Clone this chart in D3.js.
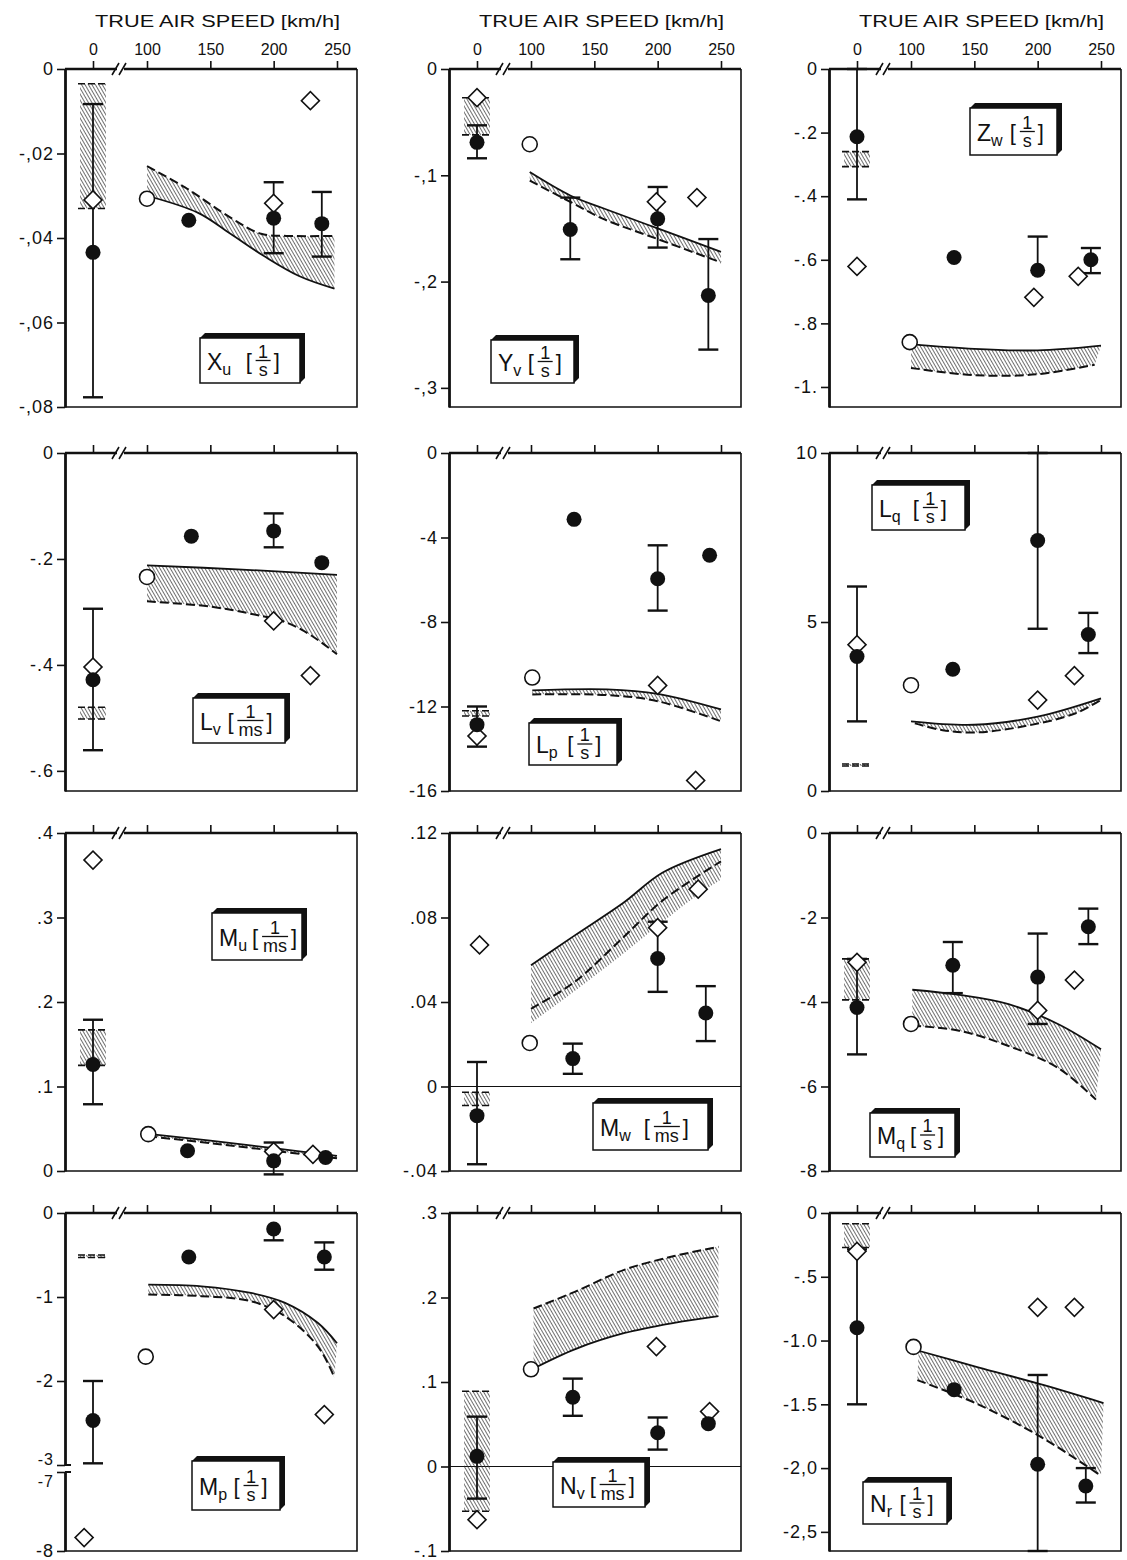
<!DOCTYPE html>
<html>
<head>
<meta charset="utf-8">
<script src="https://cdn.jsdelivr.net/npm/d3@7"></script>
<style>
  body { margin: 0; background: #fff; }
  text { font-family: "Liberation Sans", "DejaVu Sans", Arial, sans-serif; fill: #111; }
</style>
</head>
<body>
<svg id="chart" width="1127" height="1560"></svg>
<script>
// layout of the 4 x 3 grid of panels
const col_left = [65, 449, 829]
const row_top = [69, 453, 833, 1213]
const panel_w = 292
const panel_h = 338
const break_x = 55

// panel order: row by row
const coef_letter = ["X","Y","Z","L","L","L","M","M","M","M","N","N"]
const coef_sub = ["u","v","w","v","p","q","u","w","q","p","v","r"]
const coef_unit = ["s","s","s","ms","s","s","ms","ms","s","s","ms","s"]

const y_domains = [[-0.08,0],[-0.318,0],[-1.063,0],[-0.638,0],[-16,0],[0,10],[0,0.4],[-0.04,0.12],[-8,0],[-3,0],[-0.1,0.3],[-2.65,0]]
const mp_lower_domain = [-8, -7]   // M_p has a broken axis
const mp_lower_ticks = [-7, -8]

const y_tick_values = [
  [0,-0.02,-0.04,-0.06,-0.08],
  [0,-0.1,-0.2,-0.3],
  [0,-0.2,-0.4,-0.6,-0.8,-1],
  [0,-0.2,-0.4,-0.6],
  [0,-4,-8,-12,-16],
  [10,5,0],
  [0.4,0.3,0.2,0.1,0],
  [0.12,0.08,0.04,0,-0.04],
  [0,-2,-4,-6,-8],
  [0,-1,-2,-3],
  [0.3,0.2,0.1,0,-0.1],
  [0,-0.5,-1,-1.5,-2,-2.5]
]
const y_tick_labels = [
  ["0","-,02","-,04","-,06","-,08"],
  ["0","-,1","-,2","-,3"],
  ["0","-.2","-.4","-.6","-.8","-1."],
  ["0","-.2","-.4","-.6"],
  ["0","-4","-8","-12","-16"],
  ["10","5","0"],
  [".4",".3",".2",".1","0"],
  [".12",".08",".04","0","-.04"],
  ["0","-2","-4","-6","-8"],
  ["0","-1","-2","-3"],
  [".3",".2",".1","0","-.1"],
  ["0","-.5","-1.0","-1.5","-2,0","-2,5"]
]
const mp_lower_labels = ["-7", "-8"]
const hover_tick = [0]
const speed_ticks = [100, 150, 200, 250]
const zero_line_panels = [7, 10]

// flight test estimates: [panel, speed, value, error low, error high]
const flight_test = [
  [0,0,-0.0434,-0.0777,-0.0083],[0,133,-0.0358,null,null],[0,200,-0.0353,-0.0436,-0.0268],[0,238,-0.0366,-0.0444,-0.0291],
  [1,0,-0.069,-0.084,-0.053],[1,131,-0.151,-0.179,-0.121],[1,200,-0.141,-0.168,-0.111],[1,240,-0.213,-0.264,-0.160],
  [2,0,-0.213,-0.41,0],[2,134,-0.593,null,null],[2,200,-0.633,null,-0.527],[2,242,-0.60,-0.642,-0.563],
  [3,0,-0.428,-0.561,-0.294],[3,135,-0.157,null,null],[3,200,-0.147,-0.178,-0.114],[3,238,-0.207,null,null],
  [4,0,-12.86,-13.9,-12.0],[4,134,-3.14,null,null],[4,200,-5.95,-7.46,-4.37],[4,241,-4.84,null,null],
  [5,0,3.98,2.06,6.05],[5,133,3.6,null,null],[5,200,7.41,4.8,10],[5,240,4.63,4.08,5.27],
  [6,0,0.126,0.079,0.179],[6,132,0.024,null,null],[6,200,0.012,-0.004,0.0337],[6,241,0.016,null,null],
  [7,0,-0.0138,-0.0368,0.0116],[7,133,0.0132,0.006,0.0203],[7,200,0.0606,0.0448,0.078],[7,238,0.0348,0.0215,0.0475],
  [8,0,-4.13,-5.24,-2.98],[8,133,-3.13,-3.79,-2.58],[8,200,-3.41,-4.52,-2.38],[8,240,-2.22,-2.63,-1.79],
  [9,0,-2.47,-2.98,-2.0],[9,133,-0.524,null,null],[9,200,-0.19,-0.325,null],[9,240,-0.524,-0.675,-0.35],
  [10,0,0.012,-0.038,0.059],[10,133,0.082,0.060,0.104],[10,200,0.04,0.02,0.058],[10,240,0.0507,null,null],
  [11,0,-0.90,-1.50,-0.285],[11,134,-1.385,null,null],[11,200,-1.97,-2.65,-1.27],[11,238,-2.14,-2.27,-2.0]
]

// open circles: [panel, speed, value]
const open_points = [
  [0,100,-0.0307],[1,99,-0.0708],[2,99,-0.859],[3,100,-0.234],[4,101,-10.63],[5,100,3.13],
  [6,101,0.0436],[7,99,0.0206],[8,100,-4.52],[9,99,-1.71],[10,100,0.115],[11,102,-1.05]
]

// diamonds: [panel, speed, value]
const diamond_points = [
  [0,0,-0.031],[0,229,-0.0075],[0,200,-0.0318],
  [1,0,-0.027],[1,199,-0.125],[1,231,-0.121],
  [2,0,-0.621],[2,197,-0.718],[2,232,-0.652],
  [3,0,-0.404],[3,200,-0.317],[3,229,-0.42],
  [4,0,-13.4],[4,200,-11.0],[4,230,-15.5],
  [5,0,4.33],[5,200,2.69],[5,229,3.41],
  [6,0,0.368],[6,200,0.023],[6,231,0.0198],
  [7,2,0.067],[7,200,0.0752],[7,232,0.0934],
  [8,0,-3.06],[8,200,-4.2],[8,229,-3.48],
  [9,-7,-7.83],[9,200,-1.15],[9,240,-2.4],
  [10,0,-0.063],[10,199,0.142],[10,241,0.065],
  [11,0,-0.30],[11,200,-0.739],[11,229,-0.739]
]

// hatched ranges at hover: [panel, low, high]
const hover_ranges = [
  [0,-0.033,-0.0035],[1,-0.062,-0.027],[2,-0.307,-0.26],[3,-0.502,-0.48],[4,-12.45,-12.2],[5,0.74,0.8],
  [6,0.125,0.167],[7,-0.009,-0.0027],[8,-3.95,-2.98],[9,-0.53,-0.5],[10,-0.053,0.089],[11,-0.27,-0.084]
]

// hatched band edges: [panel, speed, value]
const band_upper = [
  [0,100,-0.023],[0,130,-0.028],[0,165,-0.035],[0,190,-0.039],[0,210,-0.0395],[0,248,-0.0395],
  [1,99,-0.097],[1,131,-0.119],[1,157,-0.131],[1,200,-0.150],[1,250,-0.172],
  [2,100,-0.865],[2,150,-0.88],[2,200,-0.885],[2,250,-0.87],
  [3,100,-0.212],[3,175,-0.22],[3,250,-0.23],
  [4,101,-11.24],[4,160,-11.19],[4,200,-11.4],[4,250,-12.14],
  [5,100,2.06],[5,150,1.96],[5,200,2.2],[5,250,2.74],
  [6,101,0.044],[6,150,0.036],[6,200,0.027],[6,250,0.018],
  [7,100,0.0574],[7,134,0.0713],[7,173,0.087],[7,204,0.1013],[7,250,0.1124],
  [8,101,-3.71],[8,138,-3.83],[8,177,-4.05],[8,216,-4.52],[8,250,-5.12],
  [9,101,-0.853],[9,143,-0.873],[9,182,-0.952],[9,209,-1.07],[9,235,-1.31],[9,250,-1.55],
  [10,102,0.187],[10,135,0.207],[10,174,0.233],[10,213,0.249],[10,248,0.26],
  [11,106,-1.08],[11,153,-1.21],[11,205,-1.35],[11,252,-1.49]
]
const band_lower = [
  [0,100,-0.030],[0,140,-0.034],[0,165,-0.0388],[0,193,-0.0444],[0,220,-0.049],[0,248,-0.052],
  [1,99,-0.105],[1,131,-0.125],[1,157,-0.141],[1,200,-0.160],[1,250,-0.182],
  [2,100,-0.94],[2,150,-0.963],[2,200,-0.96],[2,245,-0.93],
  [3,100,-0.28],[3,150,-0.29],[3,185,-0.305],[3,210,-0.32],[3,230,-0.345],[3,250,-0.38],
  [4,101,-11.43],[4,160,-11.46],[4,200,-11.75],[4,250,-12.7],
  [5,103,2.0],[5,125,1.8],[5,150,1.73],[5,190,1.92],[5,230,2.3],[5,250,2.7],
  [6,101,0.041],[6,150,0.033],[6,200,0.024],[6,250,0.015],
  [7,100,0.03],[7,134,0.045],[7,173,0.063],[7,204,0.078],[7,230,0.09],[7,250,0.098],
  [8,101,-4.56],[8,138,-4.68],[8,177,-5.04],[8,216,-5.56],[8,246,-6.31],
  [9,101,-0.97],[9,143,-0.99],[9,182,-1.05],[9,209,-1.23],[9,235,-1.59],[9,248,-1.96],
  [10,102,0.116],[10,135,0.139],[10,174,0.158],[10,213,0.170],[10,248,0.178],
  [11,105,-1.31],[11,153,-1.50],[11,205,-1.77],[11,250,-2.06]
]
const band_mid = [
  [7,100,0.0368],[7,134,0.0493],[7,173,0.0707],[7,204,0.0881],[7,250,0.1066]
]
const band_upper_style = ["dashed","solid","solid","solid","solid","solid","solid","solid","solid","solid","dashed","solid"]
const band_lower_style = ["solid","dashed","dashed","dashed","dashed","dashed","dashed","none","dashed","dashed","solid","dashed"]

// label box placement inside each panel: [x, y, w, h]
const label_boxes = [[135,264,105,50],[42,266,88,48],[141,34,92,52],[128,240,97,50],[80,265,93,47],[43,27,98,50],
  [147,75,95,52],[144,265,120,52],[41,275,90,49],[127,243,93,54],[104,244,97,50],[34,264,89,47]]

const ink = "#111"
const svg = d3.select("#chart")

// hatching
svg.append("defs").append("pattern")
  .attr("id", "hatch")
  .attr("patternUnits", "userSpaceOnUse")
  .attr("width", 3).attr("height", 10)
  .attr("patternTransform", "rotate(-30)")
  .append("line")
  .attr("x1", 0).attr("y1", 0).attr("x2", 0).attr("y2", 10)
  .attr("stroke", "#222").attr("stroke-width", 1.3)

const xL = d3.scaleLinear().domain([0, 10]).range([28, 40.67])
const xR = d3.scaleLinear().domain([100, 250]).range([82, 272])
const xPos = v => v < 50 ? xL(v) : xR(v)

const circle_sym = d3.symbol(d3.symbolCircle, Math.PI * 7.5 * 7.5)
const square_sym = d3.symbol(d3.symbolSquare, 162)
const edge = d3.line().x(d => xPos(d[1])).curve(d3.curveCatmullRom)

function drawLabel(g, p) {
  let [bx, by, bw, bh] = label_boxes[p]
  let d = 5
  let fx = bx, fy = by + d, fw = bw - d, fh = bh - d
  g.append("path")
    .attr("d", `M${fx},${fy} L${fx+d},${fy-d} H${fx+fw+d} V${fy+fh-d} L${fx+fw},${fy+fh} Z`)
    .attr("fill", ink)
  g.append("rect")
    .attr("x", fx).attr("y", fy).attr("width", fw).attr("height", fh)
    .attr("fill", "white").attr("stroke", ink).attr("stroke-width", 1.5)

  let mid = fy + fh / 2
  let t = g.append("text")
    .attr("x", fx + 7).attr("y", mid + 9)
    .attr("font-size", 23)
  t.append("tspan").text(coef_letter[p])
  t.append("tspan").attr("dy", 5).attr("font-size", 16).text(coef_sub[p])
  let tw = t.node().getComputedTextLength()

  let unit = coef_unit[p]
  let frac_w = unit == "ms" ? 26 : 15
  let bl = fx + 7 + tw + Math.max(3, (fw - tw - frac_w - 36) / 2) + 2
  g.append("text").attr("x", bl).attr("y", mid + 8).attr("font-size", 22).text("[")
  let fc = bl + 10 + frac_w / 2
  g.append("text").attr("x", fc).attr("y", mid - 3).attr("font-size", 18)
    .attr("text-anchor", "middle").text("1")
  g.append("line")
    .attr("x1", fc - frac_w / 2).attr("x2", fc + frac_w / 2)
    .attr("y1", mid).attr("y2", mid)
    .attr("stroke", ink).attr("stroke-width", 1.3)
  g.append("text").attr("x", fc).attr("y", mid + 15).attr("font-size", 18)
    .attr("text-anchor", "middle").text(unit)
  g.append("text").attr("x", fc + frac_w / 2 + 3).attr("y", mid + 8).attr("font-size", 22).text("]")
}

for (let p = 0; p < 12; p++) {
  let row = Math.floor(p / 3), col = p % 3
  let g = svg.append("g").attr("transform", `translate(${col_left[col]},${row_top[row]})`)

  // y scale (M_p is split in two pieces)
  let yUp = d3.scaleLinear().domain(y_domains[p]).range(p == 9 ? [252, 0] : [panel_h, 0])
  let yLow = d3.scaleLinear().domain(mp_lower_domain).range([panel_h, 259])
  let y = v => (p == 9 && v < -5) ? yLow(v) : yUp(v)

  // frame: right and bottom
  g.append("path")
    .attr("d", `M${panel_w},0 V${panel_h} H0`)
    .attr("fill", "none").attr("stroke", ink).attr("stroke-width", 1.6)
  // top line with the speed break
  g.append("path")
    .attr("d", `M0,0 H${break_x - 3} M${break_x + 4},0 H${panel_w}`)
    .attr("fill", "none").attr("stroke", ink).attr("stroke-width", 2.6)
  g.append("path")
    .attr("d", `M${break_x-8},6 L${break_x-1},-6 M${break_x-1},6 L${break_x+6},-6`)
    .attr("fill", "none").attr("stroke", ink).attr("stroke-width", 1.6)

  // top speed axes
  let fmt = row == 0 ? d3.format("d") : (() => "")
  let topR = g.append("g").call(d3.axisTop(xR).tickValues(speed_ticks).tickSize(8).tickSizeOuter(0).tickPadding(6).tickFormat(fmt))
  let topL = g.append("g").call(d3.axisTop(xL).tickValues(hover_tick).tickSize(8).tickSizeOuter(0).tickPadding(6).tickFormat(fmt))
  for (let a of [topR, topL]) {
    a.select(".domain").remove()
    a.selectAll("line").attr("stroke", ink).attr("stroke-width", 1.6)
    a.selectAll("text").attr("font-size", 16).attr("fill", ink)
  }
  if (row == 0) {
    g.append("text")
      .attr("x", 30).attr("y", -42)
      .attr("font-size", 16)
      .attr("textLength", 245).attr("lengthAdjust", "spacingAndGlyphs")
      .text("TRUE AIR SPEED [km/h]")
  }

  // left value axis
  let labels = y_tick_labels[p]
  let ax = g.append("g").call(d3.axisLeft(yUp).tickValues(y_tick_values[p]).tickSize(8).tickSizeOuter(0).tickPadding(3)
    .tickFormat((d, i) => labels[i]))
  let axes = [ax]
  if (p == 9) {
    let ax2 = g.append("g").call(d3.axisLeft(yLow).tickValues(mp_lower_ticks).tickSize(8).tickSizeOuter(0).tickPadding(3)
      .tickFormat((d, i) => mp_lower_labels[i]))
    axes.push(ax2)
    g.append("path")
      .attr("d", `M0,${yUp(-3)} H6 M0,${yLow(-7)} H6`)
      .attr("stroke", ink).attr("stroke-width", 1.8)
    // keep the two labels at the break apart
    ax.selectAll(".tick text").filter(d => d == -3).attr("dy", "-0.05em")
    ax2.selectAll(".tick text").filter(d => d == -7).attr("dy", "0.9em")
  }
  for (let a of axes) {
    a.select(".domain").attr("stroke", ink).attr("stroke-width", 2.8)
    a.selectAll(".tick line").attr("stroke", ink).attr("stroke-width", 1.6)
    a.selectAll("text").attr("font-size", 18).attr("letter-spacing", 1).attr("fill", ink)
  }
  if (p == 9) {
    g.selectAll(".tick text").filter(d => d == -3 || d == -7).attr("font-size", 16)
  }

  if (zero_line_panels.includes(p)) {
    g.append("line")
      .attr("x1", 0).attr("x2", panel_w).attr("y1", y(0)).attr("y2", y(0))
      .attr("stroke", ink).attr("stroke-width", 1.2)
  }

  // hatched band of predictions
  let up = band_upper.filter(d => d[0] == p)
  let lo = band_lower.filter(d => d[0] == p)
  let line = edge.y(d => y(d[2]))
  let area_d = line(up) + "L" + line(lo.slice().reverse()).slice(1) + "Z"
  g.append("path").attr("d", area_d).attr("fill", "url(#hatch)").attr("stroke", "none")
  let edges = [[up, band_upper_style[p]], [lo, band_lower_style[p]], [band_mid.filter(d => d[0] == p), "dashed"]]
  for (let [pts, style] of edges) {
    if (style == "none" || pts.length == 0) continue
    g.append("path").attr("d", line(pts))
      .attr("fill", "none").attr("stroke", ink)
      .attr("stroke-width", style == "solid" ? 1.8 : 2)
      .attr("stroke-dasharray", style == "dashed" ? "9 4" : null)
  }

  // hatched range at hover
  for (let r of hover_ranges.filter(d => d[0] == p)) {
    let cx = xPos(0)
    g.append("rect")
      .attr("x", cx - 13).attr("width", 26)
      .attr("y", y(r[2])).attr("height", Math.max(1.5, y(r[1]) - y(r[2])))
      .attr("fill", "url(#hatch)")
    for (let v of [r[1], r[2]]) {
      g.append("line")
        .attr("x1", cx - 15).attr("x2", cx + 15).attr("y1", y(v)).attr("y2", y(v))
        .attr("stroke", ink).attr("stroke-width", 1.6).attr("stroke-dasharray", "7 3")
    }
  }

  // error bars
  let ft = flight_test.filter(d => d[0] == p)
  for (let d of ft) {
    let cx = xPos(d[1])
    for (let e of [d[3], d[4]]) {
      if (e == null) continue
      g.append("line").attr("x1", cx).attr("x2", cx).attr("y1", y(d[2])).attr("y2", y(e))
        .attr("stroke", ink).attr("stroke-width", 1.8)
      g.append("line").attr("x1", cx - 10).attr("x2", cx + 10).attr("y1", y(e)).attr("y2", y(e))
        .attr("stroke", ink).attr("stroke-width", 2.4)
    }
  }

  g.selectAll(".open").data(open_points.filter(d => d[0] == p)).enter().append("path")
    .attr("class", "open")
    .attr("d", circle_sym)
    .attr("transform", d => `translate(${xPos(d[1])},${y(d[2])})`)
    .attr("fill", "white").attr("stroke", ink).attr("stroke-width", 1.6)

  g.selectAll(".diamond").data(diamond_points.filter(d => d[0] == p)).enter().append("path")
    .attr("class", "diamond")
    .attr("d", square_sym)
    .attr("transform", d => `translate(${xPos(d[1])},${y(d[2])}) rotate(45)`)
    .attr("fill", "white").attr("stroke", ink).attr("stroke-width", 1.6)

  g.selectAll(".filled").data(ft).enter().append("path")
    .attr("class", "filled")
    .attr("d", circle_sym)
    .attr("transform", d => `translate(${xPos(d[1])},${y(d[2])})`)
    .attr("fill", ink)

  drawLabel(g, p)
}
</script>
</body>
</html>
